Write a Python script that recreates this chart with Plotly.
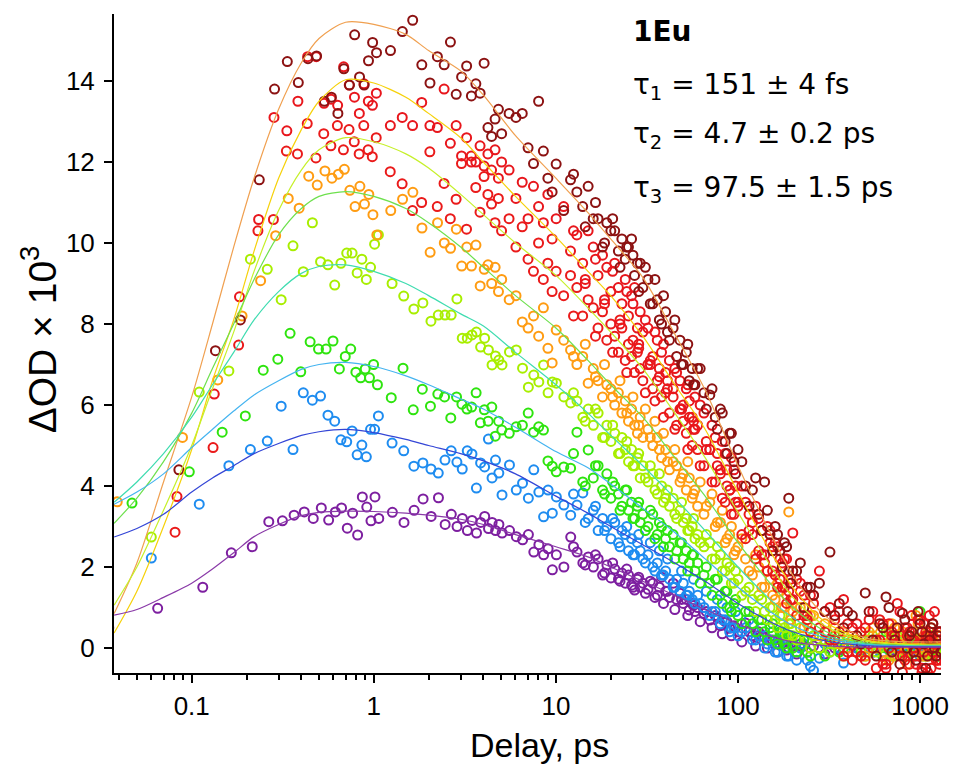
import plotly.graph_objects as go

# ---------------- data ----------------
delay_base = [0.00, 0.05, 0.10, 0.15, 0.20, 0.25, 0.30, 0.35, 0.40, 0.45, 0.50, 0.55, 0.60, 0.65, 0.70, 0.75, 0.80, 0.85, 0.90, 0.95,
              1.0, 1.2, 1.4, 1.6, 1.8, 2.0, 2.2, 2.4, 2.6, 2.8, 3.0, 3.2, 3.4, 3.6, 3.8, 4.0, 4.2, 4.4, 4.6, 4.8, 5.0,
              5.5, 6.0, 6.5, 7.0, 7.5, 8.0, 8.5, 9.0, 9.5, 10,
              11, 12, 13, 14, 15, 16, 17, 18, 19, 20, 21, 22, 23, 24, 25, 26, 27, 28, 29, 30,
              32, 34, 36, 38, 40, 42, 44, 46, 48, 50, 52, 54, 56, 58, 60,
              65, 70, 75, 80, 85, 90, 95, 100,
              110, 120, 130, 140, 150, 160, 170, 180, 190, 200,
              220, 240, 260, 280, 300, 320, 340, 360, 380, 400,
              450, 500, 550, 600, 650, 700, 750, 800, 850, 900, 950, 1000, 1050, 1100, 1150, 1200, 1250, 1300]

# extra delays (denser sampling at long times)
delay_extra = [12.5, 14.5, 16.5, 18.5, 20.5, 22.5, 24.5, 26.5, 28.5, 31, 33, 35, 37, 39, 41, 45, 49, 53, 57, 62,
               67, 72, 77, 82, 87, 92, 97, 105, 115, 125, 135, 145, 155, 165, 175, 185, 195, 210, 230, 250,
               425, 475, 525, 575, 625, 675, 725, 775, 825, 875, 925, 975, 1025, 1075, 1125, 1175, 1225, 1275]

# time-zero (chirp) shift of each probe trace, ps
t_zero_shift = [0.035, 0.033, 0.031, 0.039, 0.060, 0.047, 0.060, 0.065]

s1_darkred = [0.5, 4.4, 7.34, 8.1, 11.56, 13.8, 14.48, 13.96, 14.55, 14.62, 13.5, 13.6, 13.2, 14.3, 13.9, 15.14, 14.1, 13.9, 14.5, 14.95,
              14.7, 14.75, 15.22, 15.5, 14.4, 13.95, 14.6, 14.4, 14.96, 13.67, 14.1, 14.37, 13.63, 13.93, 13.7, 14.44, 12.85, 12.63, 13.06, 13.3, 12.7,
              13.2, 13.1, 13.2, 12.35, 11.96, 13.5, 12.27, 11.6, 11.26, 11.95,
              10.8, 11.56, 11.26, 10.9, 11.4, 10.6, 10.6, 9.9, 10.5, 10.3, 10.3, 9.8, 10.1, 9.6, 9.9, 10.1, 9.2, 9.5, 9.5, 8.9,
              9.1, 8.5, 8.6, 8.0, 8.3, 7.6, 7.9, 7.2, 7.6, 7.0, 7.3, 6.6, 6.9, 6.5, 6.9,
              6.3, 6.25, 5.7, 5.9, 5.1, 5.3, 4.6, 4.9,
              4.0, 3.9, 3.3, 4.1, 2.8, 3.0, 2.4, 2.6, 3.7, 1.9,
              2.1, 1.5, 1.3, 1.6, 0.9, 2.37, 0.8, 1.1, 0.5, 0.9,
              0.3, 1.36, 0.2, 0.6, 1.26, -0.1, 0.5, 0.86, 0.0, 0.4, -0.3, 0.6, 0.1, -0.2, 0.5, 0.0, 0.3, -0.1]
s1_extra = [11.7, 10.4, 11.0, 10.0, 10.6, 9.4, 9.9, 9.7, 8.8, 9.4, 8.5, 9.1, 8.1, 8.7, 7.8, 8.1, 7.0, 7.5, 6.5, 6.9,
            5.9, 6.4, 5.4, 5.8, 4.8, 5.3, 4.3, 4.6, 3.5, 4.2, 2.9, 3.4, 2.4, 2.8, 2.0, 2.5, 1.6, 1.9, 1.0, 1.5,
            0.8, 0.1, 0.9, -0.2, 0.5, 1.0, 0.2, -0.4, 0.7, 0.3, -0.1, 0.9, 0.4, -0.5, 0.2, 0.6, -0.2, 0.4]
s2_red = [0.3, 3.74, 6.27, 8.67, 10.58, 13.1, 12.77, 13.5, 14.6, 14.6, 13.45, 13.55, 13.4, 14.35, 13.9, 13.6, 13.2, 13.93, 13.5, 13.4,
          13.7, 12.9, 13.1, 12.9, 13.47, 12.9, 12.85, 13.8, 12.46, 12.9, 12.15, 12.6, 12.0, 12.0, 12.4, 11.9, 12.2, 11.8, 12.3, 11.6, 12.0,
          11.8, 11.1, 11.5, 10.6, 11.4, 10.9, 10.5, 11.2, 10.1, 10.6,
          10.9, 9.8, 10.2, 9.5, 10.3, 9.9, 9.2, 9.7, 9.4, 8.8, 9.5, 8.9, 8.5, 9.1, 8.2, 8.7, 8.9, 7.9, 8.3, 7.8,
          7.9, 7.2, 7.6, 7.3, 6.8, 7.1, 6.4, 6.8, 6.6, 6.0, 6.4, 6.1, 5.7, 6.2, 5.5,
          5.8, 4.9, 5.2, 4.4, 4.8, 3.9, 4.4, 3.6,
          3.6, 2.8, 3.2, 2.3, 2.9, 2.6, 1.7, 2.2, 1.4, 2.84,
          1.6, 0.8, 1.3, 1.9, 0.4, 1.0, 0.2, 0.9, 1.2, -0.1,
          0.6, -0.3, 0.9, 0.2, -0.5, 0.4, 1.1, -0.2, 0.3, 0.8, -0.4, 0.1, 0.6, -0.6, 0.2, 0.9, -0.3, 0.4]
s2_extra = [10.3, 9.0, 9.6, 8.6, 9.3, 8.0, 8.8, 8.5, 7.5, 8.1, 7.0, 7.8, 6.7, 7.5, 6.4, 6.9, 5.9, 6.5, 5.4, 6.0,
            4.9, 5.5, 4.5, 5.1, 4.0, 4.7, 3.6, 4.0, 2.9, 3.5, 2.3, 3.0, 1.9, 2.5, 1.5, 2.2, 1.2, 1.7, 0.8, 1.3,
            0.5, -0.2, 0.7, 0.2, -0.4, 0.6, 0.1, 0.9, -0.3, 0.4, 0.0, 0.7, -0.5, 0.3, 0.8, -0.1, 0.2, -0.4]
s3_red = [0.2, 2.86, 4.95, 7.48, 10.3, 10.58, 12.27, 12.2, 12.95, 12.1, 12.7, 12.4, 12.9, 12.3, 12.8, 12.5, 12.2, 12.9, 12.3, 12.13,
          12.6, 11.76, 11.46, 10.8, 11.0, 12.25, 10.9, 11.47, 10.6, 11.08, 11.96, 10.34, 12.15, 11.37, 10.76, 11.64, 11.2, 10.96, 10.5, 11.1, 10.3,
          10.6, 9.9, 10.4, 9.6, 9.3, 10.0, 9.1, 9.5, 8.8, 9.3,
          8.7, 9.2, 8.9, 8.2, 8.6, 8.4, 7.9, 8.3, 7.6, 8.0, 7.7, 7.3, 7.9, 7.1, 7.5, 7.2, 6.8, 7.3, 6.9, 6.6,
          7.0, 6.4, 6.6, 6.2, 6.3, 5.8, 6.2, 5.5, 5.9, 5.6, 5.3, 5.7, 5.0, 5.4, 4.9,
          4.5, 4.9, 4.1, 4.3, 3.6, 3.9, 3.3, 3.5,
          2.7, 3.1, 2.4, 2.1, 2.6, 1.8, 2.2, 1.5, 1.9, 1.2,
          1.4, 0.7, 1.1, 0.5, 0.9, 0.2, 0.7, 0.4, -0.2, 0.6,
          -0.1, 0.5, 0.0, 0.7, -0.4, 0.3, 0.1, -0.6, 0.5, 0.2, -0.2, 0.7, -0.1, 0.3, -0.5, 0.1, 0.4, -0.3]
s3_extra = [8.2, 9.1, 7.7, 8.5, 7.3, 8.1, 6.8, 7.6, 7.4, 6.3, 7.1, 6.1, 6.9, 5.7, 6.6, 5.4, 5.9, 4.9, 5.6, 4.5,
            5.1, 4.1, 4.8, 3.7, 4.4, 3.3, 4.0, 2.8, 3.3, 2.2, 2.9, 1.9, 2.5, 1.5, 2.1, 1.1, 1.7, 0.8, 1.3, 0.4,
            -0.3, 0.4, 0.1, -0.5, 0.6, 0.0, 0.3, -0.2, 0.5, -0.4, 0.2, 0.1, -0.6, 0.4, 0.0, 0.6, -0.3, 0.2]
s4_orange = [3.61, 5.2, 6.62, 8.2, 9.07, 10.18, 11.1, 10.86, 11.65, 11.43, 11.78, 11.6, 11.7, 11.82, 11.3, 10.9, 11.4, 10.96, 11.2, 10.7,
             10.2, 10.8, 11.08, 11.25, 10.37, 9.77, 10.5, 10.0, 9.87, 10.34, 9.43, 9.9, 9.43, 9.95, 8.94, 9.35, 9.46, 9.0, 9.4, 8.8, 9.1,
             8.6, 8.7, 8.05, 7.9, 8.2, 7.7, 8.4, 7.4, 7.04, 7.85,
             7.6, 7.36, 7.0, 7.2, 6.54, 6.9, 6.6, 6.2, 6.5, 6.4, 6.0, 6.3, 5.8, 6.1, 5.6, 5.9, 5.5, 5.3, 5.7, 5.2,
             5.4, 5.0, 5.2, 4.7, 4.9, 4.4, 4.6, 4.5, 4.1, 4.3, 3.9, 4.2, 3.7, 3.9, 3.5,
             3.3, 3.6, 3.0, 3.1, 2.6, 2.8, 2.3, 2.5,
             2.2, 1.8, 2.0, 1.5, 1.7, 1.2, 1.4, 1.0, 3.36, 0.9,
             1.0, 0.6, 0.8, 0.3, 0.6, 0.2, 0.5, 0.1, 0.4, 0.0,
             0.3, -0.2, 0.5, 0.1, -0.3, 0.6, 0.0, 0.4, -0.4, 0.2, 0.8, -0.1, 0.3, -0.2, 0.5, 0.0, -0.3, 0.3]
s4_extra = [7.2, 7.5, 6.7, 7.0, 6.2, 6.6, 5.8, 6.2, 5.5, 5.9, 5.2, 5.6, 4.9, 5.3, 4.6, 4.9, 4.2, 4.6, 3.8, 4.1,
            3.5, 3.8, 3.1, 3.4, 2.7, 3.0, 2.4, 2.7, 1.9, 2.3, 1.5, 1.9, 1.3, 1.6, 1.0, 1.3, 0.7, 1.0, 0.5, 0.8,
            0.2, -0.2, 0.4, 0.0, 0.3, -0.3, 0.5, 0.1, -0.1, 0.3, 0.0, 0.6, -0.2, 0.2, 0.4, -0.1, 0.1, 0.3]
s5_yellowgreen = [2.74, 6.32, 6.84, 9.6, 9.35, 8.6, 9.93, 9.29, 10.5, 9.54, 9.46, 8.96, 9.5, 9.75, 9.75, 9.26, 9.6, 9.1, 9.4, 9.97,
                  10.2, 9.0, 8.69, 8.37, 8.52, 8.07, 8.22, 8.22, 8.22, 8.62, 7.65, 7.65, 7.73, 7.8, 7.43, 7.65, 7.36, 6.99, 7.21, 7.11, 6.99,
                  7.31, 7.36, 6.91, 6.44, 6.74, 6.57, 6.99, 6.3, 6.57, 6.54,
                  6.2, 6.05, 6.1, 5.7, 5.9, 5.5, 5.8, 5.2, 5.5, 5.1, 5.3, 4.8, 5.2, 4.9, 4.6, 4.9, 4.5, 4.7, 4.2, 4.5,
                  4.1, 4.3, 3.8, 4.0, 3.7, 3.5, 3.7, 3.2, 3.4, 3.1, 3.2, 2.9, 3.0, 2.7, 2.8,
                  2.5, 2.6, 2.2, 2.3, 1.9, 2.0, 1.6, 1.7,
                  1.4, 1.2, 1.3, 0.9, 1.0, 0.7, 0.8, 0.5, 0.6, 0.3,
                  0.5, 0.2, 0.3, 0.0, 0.2, -0.1, 0.1, 0.3, -0.2, 0.1,
                  0.2, -0.1, 0.3, 0.0, 0.1, -0.2, 0.3, 0.1, -0.1, 0.2, 0.0, 0.4, -0.2, 0.1, 0.2, -0.1, 0.0, 0.2]
s5_extra = [6.3, 5.6, 5.9, 5.2, 5.5, 4.8, 5.1, 4.5, 4.8, 4.2, 4.5, 3.9, 4.3, 3.6, 3.9, 3.3, 3.6, 2.9, 3.2, 2.6,
            2.8, 2.2, 2.5, 1.9, 2.1, 1.6, 1.9, 1.3, 1.5, 0.9, 1.2, 0.7, 1.0, 0.5, 0.8, 0.3, 0.6, 0.2, 0.5, 0.0,
            0.2, 0.0, 0.3, -0.1, 0.1, 0.4, -0.2, 0.2, 0.0, 0.3, -0.1, 0.1, 0.2, -0.2, 0.0, 0.3, 0.1, -0.1]
s6_green = [3.58, 4.35, 5.33, 5.73, 6.86, 7.13, 7.77, 6.82, 7.56, 7.38, 7.38, 7.58, 6.89, 7.2, 7.38, 6.81, 6.67, 6.89, 6.67, 7.0,
            6.5, 6.18, 6.91, 5.88, 6.39, 5.97, 6.27, 6.2, 5.68, 6.2, 6.02, 5.9, 5.95, 6.3, 5.56, 5.88, 5.6, 5.95, 5.23, 5.6, 5.38,
            5.3, 5.46, 5.5, 5.8, 5.33, 5.46, 5.38, 4.62, 4.49, 4.35,
            4.47, 4.44, 5.33, 4.1, 4.89, 4.2, 4.5, 3.9, 4.3, 3.7, 4.0, 3.8, 3.5, 3.9, 3.4, 3.6, 3.2, 3.5, 3.1, 3.3,
            3.0, 3.3, 2.8, 3.0, 2.7, 2.5, 2.8, 2.4, 2.6, 2.2, 2.4, 2.1, 2.3, 1.9, 2.1,
            1.8, 1.6, 1.7, 1.3, 1.4, 1.0, 1.1, 0.8,
            0.9, 0.6, 0.7, 0.4, 0.5, 0.2, 0.4, 0.1, 0.3, 0.0,
            0.2, -0.1, 0.3, 0.0, -0.2, 0.1, 0.3, -0.1, 0.0, 0.2,
            0.1, -0.2, 0.2, 0.0, 0.4, -0.1, 0.1, 0.3, -0.2, 0.0, 0.2, 0.9, -0.1, 0.1, 0.3, 0.0, -0.2, 0.1]
s6_extra = [4.8, 4.0, 4.5, 3.8, 4.1, 3.4, 3.9, 3.2, 3.6, 2.9, 3.4, 2.7, 3.1, 2.5, 2.9, 2.2, 2.6, 1.9, 2.3, 1.6,
            2.0, 1.3, 1.7, 1.1, 1.4, 0.9, 1.2, 0.6, 0.9, 0.4, 0.7, 0.2, 0.6, 0.1, 0.4, 0.0, 0.3, -0.1, 0.2, -0.2,
            0.1, -0.1, 0.2, 0.0, -0.2, 0.1, 0.3, -0.1, 0.0, 0.2, -0.2, 0.1, 0.0, 0.2, -0.1, 0.1, 0.0, -0.2]
s7_blue = [2.22, 3.55, 4.5, 4.9, 5.11, 5.97, 4.9, 6.3, 6.12, 6.22, 5.75, 5.6, 5.14, 5.09, 5.36, 4.77, 5.01, 4.72, 5.4, 5.4,
           5.73, 5.06, 4.87, 4.49, 4.57, 4.42, 4.32, 4.64, 4.87, 4.59, 4.42, 4.87, 4.79, 3.95, 4.57, 4.47, 5.16, 4.2, 4.64, 4.32, 3.78,
           4.52, 3.9, 4.07, 3.7, 4.4, 3.85, 3.24, 3.9, 3.33, 3.73,
           3.53, 3.28, 3.53, 3.83, 3.2, 3.4, 2.9, 3.2, 3.0, 2.7, 3.1, 2.6, 2.9, 2.8, 2.4, 2.7, 2.3, 2.6, 2.4, 2.2,
           2.3, 2.0, 2.1, 1.8, 1.9, 1.7, 1.5, 1.7, 1.4, 1.6, 1.3, 1.4, 1.2, 1.1, 1.3,
           1.0, 0.8, 0.9, 0.6, 0.7, 0.4, 0.5, 0.3,
           0.5, 0.2, 0.3, 0.0, 0.2, -0.1, 0.1, 0.3, -0.2, 0.1,
           0.0, -0.3, -0.55, -0.25, 0.1, -0.1, 0.2, 0.0, -0.37, 0.1,
           0.0, 0.2, -0.1, 0.1, 0.0, -0.2, 0.1, 0.2, -0.1, 0.0, 0.1, -0.2, 0.2, 0.0, -0.1, 0.1, 0.0, -0.1]
s7_extra = [3.8, 3.1, 3.5, 2.9, 3.2, 2.5, 3.0, 2.3, 2.8, 2.1, 2.6, 1.9, 2.4, 1.8, 2.2, 1.5, 1.9, 1.3, 1.7, 1.1,
            1.4, 0.9, 1.2, 0.7, 1.0, 0.5, 0.9, 0.4, 0.7, 0.2, 0.5, 0.1, 0.4, -0.1, 0.3, -0.2, 0.2, -0.3, 0.1, -0.45,
            0.1, -0.1, 0.0, 0.2, -0.2, 0.1, 0.0, -0.1, 0.2, 0.0, -0.2, 0.1, 0.1, -0.1, 0.0, 0.2, -0.1, 0.0]
s8_purple = [0.98, 1.5, 2.35, 2.5, 3.12, 3.14, 3.28, 3.36, 3.2, 3.46, 3.16, 3.36, 3.46, 2.96, 3.33, 2.79, 3.73, 3.48, 3.14, 3.73,
             3.2, 3.35, 3.1, 3.4, 3.68, 3.25, 3.71, 3.05, 3.3, 3.0, 3.2, 2.9, 3.15, 2.84, 3.1, 3.25, 2.95, 3.1, 2.9, 3.05, 2.84,
             2.9, 2.75, 2.67, 2.8, 2.37, 2.55, 2.3, 2.45, 1.93, 2.3,
             2.0, 2.74, 2.37, 2.1, 2.25, 2.0, 2.2, 1.8, 2.05, 1.73, 1.95, 1.7, 1.85, 1.6, 1.8, 1.55, 1.43, 1.7, 1.5, 1.6,
             1.45, 1.6, 1.3, 1.75, 1.4, 1.25, 1.6, 1.2, 1.35, 1.1, 1.2, 0.94, 1.1, 0.9, 1.0,
             0.85, 0.69, 0.8, 0.55, 0.65, 0.49, 0.55, 0.4,
             0.62, 0.3, 0.4, 0.27, 0.2, 0.1, 0.07, 0.15, 0.0, 0.05,
             0.1, -0.1, 0.05, 0.0, -0.15, 0.1, 0.0, -0.05, 0.1, 0.0,
             0.0, 0.1, -0.1, 0.0, 0.05, -0.05, 0.1, 0.0, -0.1, 0.05, 0.0, 0.1, -0.05, 0.0, 0.05, -0.1, 0.0, 0.05]
s8_extra = [2.5, 2.05, 2.3, 1.85, 2.1, 1.65, 1.95, 1.5, 1.75, 1.35, 1.65, 1.25, 1.5, 1.1, 1.4, 0.95, 1.2, 0.8, 1.05, 0.65,
            0.9, 0.5, 0.75, 0.35, 0.65, 0.3, 0.5, 0.15, 0.4, 0.05, 0.3, 0.0, 0.2, -0.1, 0.15, -0.05, 0.1, -0.15, 0.05, 0.0,
            0.05, -0.05, 0.1, 0.0, -0.1, 0.05, 0.0, 0.1, -0.05, 0.0, 0.05, -0.1, 0.0, 0.05, 0.0, -0.05, 0.1, 0.0]

fit_delay = [0.0375, 0.05, 0.07, 0.1, 0.13, 0.17, 0.22, 0.3, 0.4, 0.5, 0.7, 1.0, 1.5, 2, 3, 4, 6, 10, 15, 20,
             30, 45, 66, 100, 150, 200, 300, 500, 700, 1000, 1300]
fit1 = [0.85, 2.1, 4.1, 6.2, 8.0, 9.9, 11.6, 13.3, 14.45, 15.05, 15.45, 15.4, 15.15, 14.75, 14.25, 13.65, 12.65, 11.6, 10.75, 10.1,
        9.15, 7.75, 6.37, 4.5, 2.85, 1.8, 0.8, 0.25, 0.17, 0.15, 0.15]
fit2 = [0.37, 1.4, 3.0, 4.9, 6.6, 8.1, 9.8, 11.6, 12.8, 13.5, 14.03, 13.95, 13.6, 13.2, 12.6, 12.0, 11.15, 10.15, 9.3, 8.7,
        7.7, 6.5, 5.4, 3.85, 2.4, 1.5, 0.65, 0.2, 0.12, 0.1, 0.1]
fit3 = [1.06, 2.0, 3.4, 5.0, 6.4, 7.8, 9.3, 10.8, 11.8, 12.3, 12.6, 12.5, 12.2, 11.85, 11.2, 10.7, 10.0, 9.2, 8.4, 7.8,
        6.9, 5.8, 4.7, 3.35, 2.05, 1.25, 0.55, 0.17, 0.1, 0.08, 0.08]
fit4 = [3.08, 3.7, 4.6, 5.8, 6.9, 8.0, 9.1, 10.2, 10.85, 11.15, 11.27, 11.15, 10.85, 10.5, 9.9, 9.4, 8.7, 7.9, 7.1, 6.5,
        5.7, 4.7, 3.75, 2.6, 1.6, 1.0, 0.42, 0.13, 0.08, 0.06, 0.06]
fit5 = [3.6, 4.1, 4.8, 5.7, 6.5, 7.3, 8.1, 8.8, 9.25, 9.42, 9.46, 9.3, 9.0, 8.7, 8.25, 7.95, 7.3, 6.5, 5.8, 5.25,
        4.5, 3.7, 2.9, 2.0, 1.2, 0.75, 0.32, 0.1, 0.06, 0.05, 0.05]
fit6 = [3.55, 3.85, 4.3, 4.95, 5.4, 5.85, 6.25, 6.6, 6.88, 7.0, 7.05, 6.95, 6.72, 6.5, 6.15, 5.9, 5.45, 4.85, 4.45, 4.05,
        3.45, 2.85, 2.2, 1.5, 0.9, 0.55, 0.25, 0.08, 0.05, 0.04, 0.04]
fit7 = [2.74, 2.95, 3.3, 3.85, 4.2, 4.5, 4.8, 5.05, 5.25, 5.34, 5.4, 5.32, 5.15, 5.0, 4.8, 4.62, 4.3, 3.75, 3.33, 3.0,
        2.55, 2.1, 1.65, 1.1, 0.65, 0.4, 0.18, 0.06, 0.04, 0.03, 0.03]
fit8 = [0.81, 0.95, 1.25, 1.6, 1.95, 2.35, 2.75, 3.05, 3.27, 3.35, 3.38, 3.37, 3.33, 3.28, 3.18, 3.05, 2.8, 2.5, 2.25, 2.0,
        1.65, 1.3, 0.95, 0.6, 0.3, 0.15, 0.06, 0.02, 0.02, 0.02, 0.02]

x_tick_values = [0.1, 1, 10, 100, 1000]
x_tick_labels = ["0.1", "1", "10", "100", "1000"]
y_tick_values = [0, 2, 4, 6, 8, 10, 12, 14]
y_tick_labels = ["0", "2", "4", "6", "8", "10", "12", "14"]
x_title = "Delay, ps"
y_title = "ΔOD × 10<sup>3</sup>"
info_lines = ["<b>1Eu</b>", "τ<sub>1</sub> = 151 ± 4 fs", "τ<sub>2</sub> = 4.7 ± 0.2 ps", "τ<sub>3</sub> = 97.5 ± 1.5 ps"]

# ---------------- styles ----------------
point_series = [s1_darkred, s2_red, s3_red, s4_orange, s5_yellowgreen, s6_green, s7_blue, s8_purple]
extra_series = [s1_extra, s2_extra, s3_extra, s4_extra, s5_extra, s6_extra, s7_extra, s8_extra]
point_colors = ["#8c1212", "#e8161c", "#ea1a1a", "#ff9c12", "#a8ee00", "#2ee40e", "#1e8cf0", "#7d1fa0"]
fit_series = [fit1, fit2, fit3, fit4, fit5, fit6, fit7, fit8]
fit_colors = ["#f0a050", "#f6d10a", "#c6f02a", "#6ee04e", "#3fdcb0", "#45b4f0", "#3446d6", "#8a3aa8"]

for s in point_series:
    if len(s) != len(delay_base):
        raise ValueError("length mismatch %d" % len(s))
for s in extra_series:
    if len(s) != len(delay_extra):
        raise ValueError("extra length mismatch %d" % len(s))

fig = go.Figure()
for i in reversed(range(len(point_series))):
    xs = [d + t_zero_shift[i] for d in delay_base] + list(delay_extra)
    ys = list(point_series[i]) + list(extra_series[i])
    fig.add_trace(go.Scatter(
        x=xs, y=ys, mode="markers",
        marker=dict(symbol="circle-open", size=9, color=point_colors[i],
                    line=dict(width=2, color=point_colors[i])),
        hoverinfo="skip"))
for i in range(len(fit_series)):
    fig.add_trace(go.Scatter(
        x=fit_delay, y=fit_series[i], mode="lines",
        line=dict(color=fit_colors[i], width=1.2, shape="spline", smoothing=0.8),
        hoverinfo="skip"))

FONT = "Liberation Sans, Arial, Helvetica, sans-serif"
INFO_FONT = "DejaVu Sans, Liberation Sans, Arial, sans-serif"
L, R, T, B = 114, 944, 14, 673
W, H = 961, 767

fig.update_layout(
    width=W, height=H,
    margin=dict(l=L, r=W - R, t=T, b=H - B, pad=0),
    plot_bgcolor="white", paper_bgcolor="white",
    showlegend=False,
    font=dict(family=FONT, color="black", size=26),
)
fig.update_xaxes(
    type="log", range=[-1.4268, 3.115],
    showline=True, linecolor="black", linewidth=2,
    ticks="outside", ticklen=8, tickwidth=2, tickcolor="black",
    tickvals=x_tick_values, ticktext=x_tick_labels,
    tickfont=dict(size=26, family=FONT, color="black"),
    ticklabelstandoff=1,
    showgrid=False, zeroline=False,
    minor=dict(ticks="outside", ticklen=5, tickwidth=2, tickcolor="black", dtick="D1", showgrid=False),
)
fig.update_yaxes(
    range=[-0.617, 15.654],
    showline=True, linecolor="black", linewidth=2,
    ticks="outside", ticklen=8, tickwidth=2, tickcolor="black",
    tickvals=y_tick_values, ticktext=y_tick_labels,
    tickfont=dict(size=26, family=FONT, color="black"),
    ticklabelstandoff=4,
    showgrid=False, zeroline=False,
)

def px_to_paper(px, py):
    return (px - L) / (R - L), (B - py) / (B - T)

ax, ay = px_to_paper(541, 745)
fig.add_annotation(text=x_title, x=ax, y=ay, xref="paper", yref="paper", showarrow=False,
                   xanchor="center", yanchor="middle", font=dict(size=34, family=FONT, color="black"))
ax, ay = px_to_paper(38, 339)
fig.add_annotation(text=y_title, x=ax, y=ay, xref="paper", yref="paper", showarrow=False, textangle=-90,
                   xanchor="center", yanchor="middle", font=dict(size=39, family=FONT, color="black"))

for txt, py in zip(info_lines, [32, 87, 135, 189]):
    ax, ay = px_to_paper(633, py)
    fig.add_annotation(text=txt, x=ax, y=ay, xref="paper", yref="paper", showarrow=False,
                       xanchor="left", yanchor="middle", font=dict(size=28, family=INFO_FONT, color="black"))

fig.write_html("out.html", config={"displayModeBar": False},
               post_script="document.body.style.margin='0px';document.body.style.overflow='hidden';")
